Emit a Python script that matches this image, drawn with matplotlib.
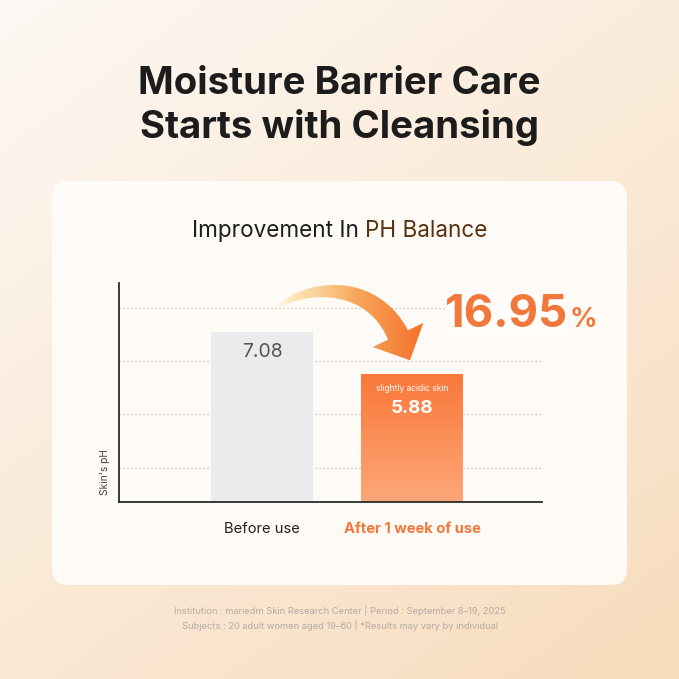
import numpy as np
import matplotlib
matplotlib.use("Agg")
import matplotlib.pyplot as plt
from matplotlib.patches import FancyBboxPatch, Polygon
from matplotlib.colors import LinearSegmentedColormap

# ---------------- data ----------------
categories = ["Before use", "After 1 week of use"]
ph_values = [7.08, 5.88]
value_labels = ["7.08", "5.88"]
bar_note = "slightly acidic skin"
improvement_label = "16.95"
title_lines = ["Moisture Barrier Care", "Starts with Cleansing"]
subtitle_plain = "Improvement In "
subtitle_accent = "PH Balance"
y_label = "Skin's pH"
footer_lines = ["Institution : mariedm Skin Research Center | Period : September 8\u201319, 2025",
                "Subjects : 20 adult women aged 19\u201360 | *Results may vary by individual"]

W = H = 679
DPI = 100
FONT = ["Inter", "DejaVu Sans"]
plt.rcParams["font.family"] = FONT

ORANGE = "#f2773a"
BROWN = "#5a3212"

fig = plt.figure(figsize=(W / DPI, H / DPI), dpi=DPI)

# ---------- background (pixel coordinates) ----------
bg = fig.add_axes([0, 0, 1, 1], zorder=0)
bg.set_xlim(0, W); bg.set_ylim(H, 0); bg.axis("off")
yy, xx = np.mgrid[0:1:200j, 0:1:200j]
t = np.clip(0.55 * xx + 0.75 * yy, 0, 1.3) / 1.3
c0 = np.array([253, 248, 244]) / 255
c1 = np.array([248, 220, 188]) / 255
img = c0[None, None, :] * (1 - t[..., None]) + c1[None, None, :] * t[..., None]
bg.imshow(img, extent=(0, W, H, 0), aspect="auto", zorder=0)
card = FancyBboxPatch((52, 181), 575, 404, boxstyle="round,pad=0,rounding_size=16",
                      facecolor="#fffcf9", edgecolor="none", alpha=0.95, zorder=1)
bg.add_patch(card)
bg.set_xlim(0, W); bg.set_ylim(H, 0)

# ---------- chart axes ----------
L, R, T, B = 119, 541.7, 282.7, 501.7
ax = fig.add_axes([L / W, 1 - B / H, (R - L) / W, (B - T) / H], zorder=1)
ax.patch.set_alpha(0)
x = np.arange(len(categories))
bars = ax.bar(x, ph_values, width=0.68, color=["#ebebeb", "none"], edgecolor="none", zorder=2)
ax.set_xlim(-0.953, 1.865)
ax.set_ylim(2.257, 8.47)
grid_vals = [3.22, 4.745, 6.25, 7.76]
ax.set_yticks(grid_vals)
ax.set_yticklabels([])
ax.tick_params(axis="y", length=0)
ax.yaxis.grid(True, linestyle=(0, (1, 2.2)), color="#b8b8b8", linewidth=0.9)
ax.set_axisbelow(True)
for s in ["top", "right"]:
    ax.spines[s].set_visible(False)
for s in ["left", "bottom"]:
    ax.spines[s].set_color("#2a2a2a")
    ax.spines[s].set_linewidth(1.3)

# gradient fill for the second bar
ob = bars[1]
bx0 = ob.get_x()
grad = np.linspace(0, 1, 100)[:, None]
ocmap = LinearSegmentedColormap.from_list("o", ["#fa783a", "#fda778"])
gim = ax.imshow(grad, cmap=ocmap, aspect="auto",
                extent=(bx0, bx0 + ob.get_width(), ax.get_ylim()[0], ph_values[1]),
                origin="upper", zorder=2.1)
gim.set_clip_path(ob)
ax.set_xlim(-0.953, 1.865)
ax.set_ylim(2.257, 8.47)

ax.set_xticks(x)
ax.set_xticklabels(categories)
ax.tick_params(axis="x", length=0, pad=14.5)
xt = ax.get_xticklabels()
xt[0].set_fontsize(10.6); xt[0].set_color("#222222")
xt[1].set_fontsize(10.6); xt[1].set_color(ORANGE); xt[1].set_fontweight("bold")

ax.annotate(value_labels[0], (x[0], ph_values[0]), xytext=(0, -14.5), textcoords="offset points",
            ha="center", va="center", fontsize=14, color="#555555", zorder=3)
ax.annotate(bar_note, (x[1], ph_values[1]), xytext=(0, -10.8), textcoords="offset points",
            ha="center", va="center", fontsize=6.1, color="white", zorder=3)
ax.annotate(value_labels[1], (x[1], ph_values[1]), xytext=(0, -25), textcoords="offset points",
            ha="center", va="center", fontsize=13.5, color="white", fontweight="bold", zorder=3)

ax.set_ylabel(y_label, fontsize=7.4, color="#444444")
ax.yaxis.set_label_coords(-0.022, 0.135)

# ---------- foreground (pixel coordinates) ----------
fg = fig.add_axes([0, 0, 1, 1], zorder=2)
fg.patch.set_alpha(0); fg.axis("off")
fg.set_xlim(0, W); fg.set_ylim(H, 0)

# curved arrow
P = np.array([[274, 311], [298, 286], [370, 276], [398, 335]], float)
ts = np.linspace(0, 1, 80)
curve = ((1 - ts) ** 3)[:, None] * P[0] + (3 * (1 - ts) ** 2 * ts)[:, None] * P[1] + \
        (3 * (1 - ts) * ts ** 2)[:, None] * P[2] + (ts ** 3)[:, None] * P[3]
deriv = (3 * (1 - ts) ** 2)[:, None] * (P[1] - P[0]) + (6 * (1 - ts) * ts)[:, None] * (P[2] - P[1]) + \
        (3 * ts ** 2)[:, None] * (P[3] - P[2])
tang = deriv / np.linalg.norm(deriv, axis=1)[:, None]
norm = np.stack([-tang[:, 1], tang[:, 0]], axis=1)
wid = 1 + 21 * ts ** 0.8
left = curve + norm * (wid / 2)[:, None]
right = curve - norm * (wid / 2)[:, None]
tu = tang[-1]; nu = norm[-1]
tip = P[3] + tu * 28
barbL = P[3] + nu * 28
barbR = P[3] - nu * 28
poly_pts = np.vstack([left, barbL, tip, barbR, right[::-1]])
arrow = Polygon(poly_pts, closed=True, facecolor="none", edgecolor="none")
fg.add_patch(arrow)
acmap = LinearSegmentedColormap.from_list(
    "a", [(0.0, (1.0, 0.93, 0.75, 0.0)), (0.15, (0.99, 0.86, 0.6, 0.7)),
          (0.55, (0.97, 0.65, 0.35, 1.0)), (1.0, (0.96, 0.43, 0.16, 1.0))])
agrad = np.linspace(0, 1, 200)[None, :]
aim = fg.imshow(agrad, cmap=acmap, aspect="auto", extent=(270, 428, 370, 275), zorder=3)
aim.set_clip_path(arrow)
fg.set_xlim(0, W); fg.set_ylim(H, 0)

# big percentage
fg.text(445, 327, improvement_label, fontsize=32.8, fontweight="bold", color=ORANGE,
        ha="left", va="baseline", zorder=4,
        bbox=dict(facecolor="#fffcf9", edgecolor="none", pad=0))
fg.text(569, 327, "%", fontsize=19.5, fontweight="bold", color=ORANGE, ha="left", va="baseline", zorder=4)

# titles
for line, yb in zip(title_lines, [94.5, 137.5]):
    fg.text(W / 2, yb, line, fontsize=27.6, fontweight="bold", color="#1c1c1c",
            ha="center", va="baseline")

# subtitle with two colours, centred as a whole
SUB_FS = 16.2
st1 = fg.text(0, 237, subtitle_plain, fontsize=SUB_FS, color="#1e1e1e", ha="left", va="baseline")
st2 = fg.text(0, 237, subtitle_accent, fontsize=SUB_FS, color=BROWN, ha="left", va="baseline")
fig.canvas.draw()
w1 = st1.get_window_extent().width
w2 = st2.get_window_extent().width
x_start = 339.5 - (w1 + w2) / 2
st1.set_x(x_start)
st2.set_x(x_start + w1)

# footer
fg.text(W / 2, 614, footer_lines[0], fontsize=6.7, color="#b3aca5", ha="center", va="baseline")
fg.text(W / 2, 629, footer_lines[1], fontsize=6.7, color="#b3aca5", ha="center", va="baseline")

fig.savefig("out.png", dpi=DPI)
